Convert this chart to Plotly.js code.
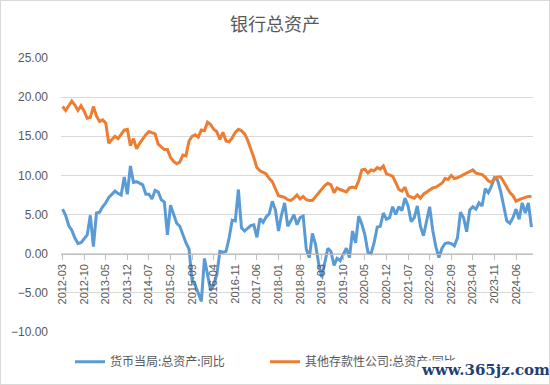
<!DOCTYPE html>
<html>
<head>
<meta charset="utf-8">
<script src="https://cdn.plot.ly/plotly-3.0.1.min.js"></script>
<style>
html,body{margin:0;padding:0;background:#fff;}
#chart{width:548px;height:383px;border:1px solid #d9d9d9;}
</style>
</head>
<body>
<div id="chart"></div>
<script>
// Monthly categories 2012-03 .. 2024-11
const categories = [];
(function(){
  let y = 2012, m = 3;
  while (categories.length < 153) {
    categories.push(y + '-' + String(m).padStart(2, '0'));
    m++; if (m > 12) { m = 1; y++; }
  }
})();

const tickLabels = ['2012-03','2012-10','2013-05','2013-12','2014-07','2015-02','2015-09','2016-04','2016-11','2017-06','2018-01','2018-08','2019-03','2019-10','2020-05','2020-12','2021-07','2022-02','2022-09','2023-04','2023-11','2024-06'];

const seriesNames = ['货币当局:总资产:同比', '其他存款性公司:总资产:同比'];

// 货币当局:总资产:同比
const centralBank = [
5.7,4.9,3.6,3.0,2.0,1.3,1.4,1.9,2.4,4.9,0.9,5.2,
5.3,6.0,6.5,7.2,7.6,8.0,7.7,7.5,9.8,7.6,11.2,9.1,
9.2,9.0,8.8,7.6,7.6,7.0,8.1,7.9,6.9,6.6,2.4,6.2,
5.0,3.9,3.5,2.3,1.4,0.6,-3.5,-4.0,-5.0,-6.1,-0.6,-2.8,
-4.7,-4.0,-2.7,0.3,0.2,0.3,2.0,4.3,4.2,8.2,3.3,2.9,
3.3,3.6,3.7,2.1,4.5,4.0,4.7,5.1,6.7,5.6,2.9,5.0,
6.5,3.5,4.2,5.0,3.7,4.6,4.8,0.6,-0.5,2.6,1.2,-1.2,
-3.0,-1.2,0.7,0.3,-1.5,-0.6,-0.9,-0.1,0.7,-0.5,2.9,1.4,
4.8,3.8,2.4,0.2,0.0,1.4,3.4,3.5,5.2,4.4,4.6,6.0,
5.0,6.0,5.5,7.1,6.1,4.1,4.6,6.1,3.5,2.3,4.0,6.0,
3.0,0.9,-0.5,0.7,1.3,1.4,1.3,1.0,2.0,5.3,4.6,2.8,
5.6,6.0,5.7,6.5,6.1,8.3,7.8,8.6,9.7,9.4,8.0,6.2,
4.2,3.9,4.6,5.7,4.4,6.5,5.2,6.5,3.4
];

// 其他存款性公司:总资产:同比
const otherDeposit = [
18.8,18.3,18.9,19.5,19.0,18.3,18.9,18.2,17.3,17.4,18.8,17.6,
16.9,17.1,16.7,14.1,14.6,15.0,14.7,15.2,15.8,15.9,13.8,14.7,
13.4,14.1,14.7,15.2,15.6,15.4,15.3,14.0,13.6,13.3,13.3,12.3,
11.8,11.5,11.7,12.6,12.5,14.4,15.0,15.2,14.9,15.8,15.7,16.8,
16.5,15.9,15.6,14.6,15.5,14.4,14.3,14.8,15.5,15.9,15.7,15.3,
14.5,13.5,12.3,11.0,10.6,10.4,10.2,9.6,9.2,8.3,7.4,7.3,
7.2,6.9,6.8,7.1,7.5,7.0,7.3,6.9,6.8,6.8,7.3,7.8,
8.3,8.7,9.0,8.8,7.8,8.4,8.2,8.0,7.9,8.4,8.5,8.4,
9.3,10.7,10.8,10.3,10.7,10.6,11.0,10.8,11.2,10.2,10.0,9.9,
9.1,8.2,8.0,8.5,7.4,7.2,7.1,7.5,7.1,7.6,7.9,8.2,
8.4,8.5,8.8,9.0,9.6,9.5,10.0,9.6,9.7,9.9,10.1,10.3,
10.5,10.7,10.3,10.2,10.1,9.8,9.3,9.1,9.6,9.8,9.8,9.2,
8.4,7.8,7.4,6.7,6.9,7.1,7.2,7.3,7.3
];

const yTicks = [-10, -5, 0, 5, 10, 15, 20, 25];

const numFont = 'Liberation Sans, Arial, sans-serif';
const cjkFont = '"Noto Sans CJK SC", sans-serif';

const traces = [
  {x: categories, y: centralBank, name: seriesNames[0], type: 'scatter', mode: 'lines',
   line: {color: '#5b9bd5', width: 3}},
  {x: categories, y: otherDeposit, name: seriesNames[1], type: 'scatter', mode: 'lines',
   line: {color: '#ed7d31', width: 3}}
];

const layout = {
  width: 548, height: 383,
  margin: {l: 60, r: 16, t: 57, b: 52},
  paper_bgcolor: '#ffffff', plot_bgcolor: '#ffffff',
  title: {text: '银行总资产', font: {family: cjkFont, size: 18, color: '#595959'},
          x: 0.5, xref: 'container', y: 0.937, yref: 'container', yanchor: 'middle'},
  xaxis: {
    type: 'category', range: [-0.5, categories.length - 0.5],
    anchor: 'free', position: 10/35,
    showline: true, linecolor: '#bfbfbf', linewidth: 1,
    ticks: 'outside', ticklen: 5, tickcolor: '#bfbfbf',
    tickmode: 'array', tickvals: tickLabels, ticktext: tickLabels,
    tickangle: -90, showgrid: false, zeroline: false,
    tickfont: {family: numFont, size: 11, color: '#595959'}
  },
  yaxis: {
    range: [-10, 25], tickmode: 'array', tickvals: yTicks, tickformat: '.2f',
    showgrid: true, gridcolor: '#d9d9d9', gridwidth: 1,
    zeroline: false, showline: false, ticks: '',
    ticklabelstandoff: 12,
    tickfont: {family: numFont, size: 12, color: '#595959'}
  },
  legend: {orientation: 'h', xref: 'container', yref: 'container',
           x: 0.1259, xanchor: 'left', y: 0.0582, yanchor: 'middle',
           font: {family: cjkFont, size: 12, color: '#595959'},
           entrywidth: 150, entrywidthmode: 'pixels', bgcolor: 'rgba(0,0,0,0)'},
  showlegend: true,
  annotations: [{
    text: '<b>www.365jz.com</b>', xref: 'paper', yref: 'paper',
    x: 0.899, y: -0.139, xanchor: 'center', yanchor: 'middle', showarrow: false,
    bgcolor: '#ffffff', borderpad: 0,
    font: {family: 'DejaVu Serif, serif', size: 15, color: '#1f3f77'}
  }]
};

Plotly.newPlot('chart', traces, layout, {displayModeBar: false, staticPlot: true});
</script>
</body>
</html>
